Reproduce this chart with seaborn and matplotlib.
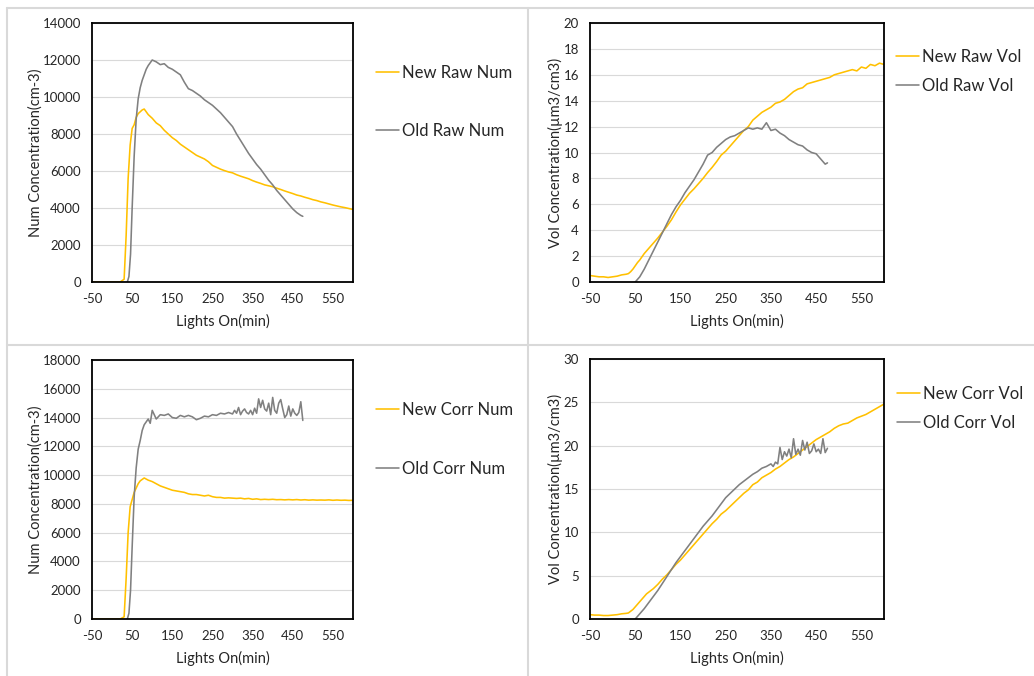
import matplotlib
matplotlib.use("Agg")
import matplotlib.pyplot as plt
from matplotlib.lines import Line2D
import seaborn as sns

# --- time axes (minutes after lights on) ---
t_new = [-50, -40, -30, -20, -10, 0, 10, 20, 30, 35, 40, 45, 50, 55, 60, 65, 70, 75, 80] + list(range(90, 601, 10))
t_old_num = [38, 42, 46, 50, 55, 60, 65, 70, 75, 80, 85, 90, 95, 100] + list(range(110, 471, 10)) + [475]
t_old_corr_num = [38, 42, 46, 50, 55, 60, 65, 70, 75, 80, 85, 90, 95, 100] + list(range(110, 301, 10)) + list(range(305, 476, 5))
t_old_vol = [50] + list(range(60, 471, 10)) + [475]
t_old_corr_vol = [50] + list(range(60, 351, 10)) + list(range(355, 476, 5))

# --- raw number concentration ---
new_raw_num = [0, 0, 0, 0, 0, 0, 0, 0, 150, 2500, 5600, 7400, 8300, 8500, 8900, 9100, 9200, 9300, 9350,
               9050, 8850, 8600, 8450, 8200, 8000, 7800, 7650, 7450, 7300, 7150, 7000, 6850, 6750, 6650, 6500,
               6300, 6200, 6100, 6020, 5950, 5900, 5800, 5720, 5650, 5580, 5480, 5400, 5330, 5250, 5200, 5150,
               5070, 5000, 4920, 4850, 4780, 4700, 4650, 4580, 4520, 4450, 4400, 4330, 4280, 4220, 4160, 4110,
               4060, 4020, 3970, 3920]
old_raw_num = [0, 300, 1500, 4000, 6800, 8800, 9900, 10500, 10900, 11200, 11500, 11700, 11850, 12000,
               11900, 11750, 11800, 11600, 11500, 11350, 11200, 10800, 10450, 10350, 10200, 10050, 9850, 9700,
               9550, 9350, 9150, 8900, 8650, 8400, 8000, 7650, 7300, 6950, 6650, 6350, 6100, 5800, 5500, 5250,
               4950, 4700, 4450, 4200, 3950, 3750, 3600, 3550]

# --- raw volume concentration ---
new_raw_vol = [0.5, 0.45, 0.4, 0.4, 0.35, 0.4, 0.45, 0.55, 0.6, 0.65, 0.8, 1.0, 1.25, 1.5, 1.7, 1.95, 2.2, 2.4, 2.6,
               3.0, 3.4, 3.85, 4.3, 4.8, 5.4, 5.95, 6.4, 6.85, 7.2, 7.6, 8.0, 8.45, 8.85, 9.3, 9.8, 10.1, 10.5,
               10.9, 11.3, 11.7, 12.0, 12.5, 12.8, 13.1, 13.3, 13.5, 13.8, 13.9, 14.1, 14.4, 14.7, 14.9, 15.0,
               15.3, 15.4, 15.5, 15.6, 15.7, 15.8, 16.0, 16.1, 16.2, 16.3, 16.4, 16.3, 16.6, 16.5, 16.8, 16.7,
               16.9, 16.8]
old_raw_vol = [0, 0.4, 1.0, 1.7, 2.4, 3.1, 3.8, 4.5, 5.2, 5.8, 6.3, 6.9, 7.4, 7.9, 8.5, 9.1, 9.8, 10.0, 10.4,
               10.7, 11.0, 11.2, 11.3, 11.5, 11.7, 11.9, 11.8, 11.9, 11.8, 12.3, 11.7, 11.8, 11.5, 11.3, 11.0,
               10.8, 10.6, 10.5, 10.2, 10.0, 9.9, 9.5, 9.1, 9.2]

# --- corrected number concentration ---
new_corr_num = [0, 0, 0, 0, 0, 0, 0, 0, 150, 2800, 6000, 7800, 8300, 8800, 9100, 9400, 9600, 9700, 9800,
                9650, 9550, 9400, 9250, 9150, 9050, 8950, 8900, 8850, 8800, 8700, 8650, 8650, 8600, 8550, 8600,
                8500, 8450, 8450, 8400, 8420, 8400, 8380, 8400, 8350, 8380, 8320, 8350, 8300, 8320, 8300, 8320,
                8290, 8300, 8280, 8300, 8280, 8300, 8270, 8290, 8260, 8280, 8260, 8270, 8260, 8280, 8250, 8270,
                8250, 8260, 8240, 8250]
old_corr_num = [0, 400, 2000, 5000, 8500, 10500, 11800, 12400, 13100, 13500, 13700, 13900, 13600, 14500,
                13900, 14200, 14150, 14250, 14000, 13950, 14150, 14050, 14150, 14050, 13850, 13950, 14100, 14050,
                14200, 14150, 14300, 14250, 14350, 14250,
                14500, 14300, 14700, 14200, 14450, 14600, 14350, 14250, 14500, 14200, 14650, 14300, 15300, 14700,
                15200, 14600, 14450, 15000, 14200, 15400, 14500, 14300, 15000, 15250, 14600, 14000, 14200, 14800,
                14100, 14600, 14300, 14150, 14350, 15100, 13800]

# --- corrected volume concentration ---
new_corr_vol = [0.5, 0.45, 0.45, 0.4, 0.4, 0.45, 0.5, 0.6, 0.65, 0.7, 0.9, 1.1, 1.4, 1.7, 2.0, 2.3, 2.6, 2.9, 3.1,
                3.5, 4.0, 4.6, 5.1, 5.7, 6.3, 6.8, 7.4, 8.0, 8.6, 9.2, 9.8, 10.4, 11.0, 11.5, 12.1, 12.5, 13.0,
                13.5, 14.0, 14.5, 14.9, 15.5, 15.8, 16.3, 16.6, 16.9, 17.3, 17.6, 18.0, 18.4, 18.7, 19.1, 19.5,
                19.9, 20.3, 20.7, 21.0, 21.3, 21.6, 22.0, 22.3, 22.5, 22.6, 22.9, 23.2, 23.4, 23.6, 23.9, 24.2,
                24.5, 24.8]
old_corr_vol = [0, 0.6, 1.2, 1.9, 2.6, 3.3, 4.1, 4.9, 5.7, 6.5, 7.2, 7.9, 8.6, 9.3, 10.0, 10.7, 11.3, 11.9,
                12.6, 13.3, 14.0, 14.5, 15.0, 15.5, 15.9, 16.3, 16.7, 17.0, 17.4, 17.6, 17.9,
                17.6, 18.1, 17.9, 19.8, 18.4, 19.3, 18.8, 19.6, 18.6, 20.8, 19.0, 19.6, 18.9, 20.6, 19.5, 20.4,
                19.1, 19.4, 20.2, 19.3, 19.6, 19.1, 20.8, 19.2, 19.7]

ORANGE = "#FFC000"
GREY = "#808080"
W, H = 1034, 676

sns.set_style("white")
plt.rcParams["font.family"] = ["Lato", "DejaVu Sans"]
plt.rcParams["axes.unicode_minus"] = False

fig = plt.figure(figsize=(W / 100, H / 100), dpi=100)

# light cell borders like the spreadsheet
for xs, ys in [((7, W), (8, 8)), ((7, W), (345, 345)), ((7, 7), (8, H)), ((528, 528), (8, H))]:
    fig.add_artist(Line2D([x / W for x in xs], [1 - y / H for y in ys], color="#d9d9d9", lw=1.5))

panels = [
    # (box l,t,r,b), new, old, labels, ylabel, ymax, ystep, legend x, legend y, spacing
    ((92, 23, 353, 282), (t_new, new_raw_num), (t_old_num, old_raw_num), ("New Raw Num", "Old Raw Num"),
     "Num Concentration(cm-3)", 14000, 2000, 376, 102, 2.55),
    ((590, 23, 884, 282), (t_new, new_raw_vol), (t_old_vol, old_raw_vol), ("New Raw Vol", "Old Raw Vol"),
     "Vol Concentration(µm3/cm3)", 20, 2, 896, 71.5, 0.75),
    ((92, 360, 353, 619), (t_new, new_corr_num), (t_old_corr_num, old_corr_num), ("New Corr Num", "Old Corr Num"),
     "Num Concentration(cm-3)", 18000, 2000, 376, 439.5, 2.55),
    ((590, 359, 884, 619), (t_new, new_corr_vol), (t_old_corr_vol, old_corr_vol), ("New Corr Vol", "Old Corr Vol"),
     "Vol Concentration(µm3/cm3)", 30, 5, 897, 408.5, 0.75),
]

for box, new, old, labels, ylabel, ymax, ystep, lx, ly, spacing in panels:
    l, t, r, b = box
    ax = fig.add_axes([l / W, 1 - b / H, (r - l) / W, (b - t) / H])
    sns.lineplot(x=new[0], y=new[1], ax=ax, color=ORANGE, lw=1.15, label=labels[0])
    sns.lineplot(x=old[0], y=old[1], ax=ax, color=GREY, lw=1.15, label=labels[1])
    ax.set_xlim(-50, 600)
    ax.set_ylim(0, ymax)
    ax.set_xticks(range(-50, 551, 100))
    ax.set_xticks(range(0, 601, 100), minor=True)
    ax.set_yticks(range(0, ymax + 1, ystep))
    ax.tick_params(axis="x", which="both", direction="in", length=4, width=1, pad=8, labelsize=9.5)
    ax.tick_params(axis="y", length=0, pad=8, labelsize=9.5)
    ax.yaxis.grid(True, color="#d9d9d9", lw=0.8)
    ax.set_axisbelow(True)
    for sp in ax.spines.values():
        sp.set_color("black")
        sp.set_linewidth(1.3)
    ax.set_xlabel("Lights On(min)", fontsize=10.5, labelpad=6)
    ax.set_ylabel(ylabel, fontsize=10.5, labelpad=0)
    ax.legend(loc="center left", bbox_to_anchor=(lx / W, 1 - ly / H), bbox_transform=fig.transFigure,
              frameon=False, borderpad=0, borderaxespad=0, handlelength=1.4, handletextpad=0.15,
              labelspacing=spacing, fontsize=12)

fig.savefig("out.png", dpi=100)
